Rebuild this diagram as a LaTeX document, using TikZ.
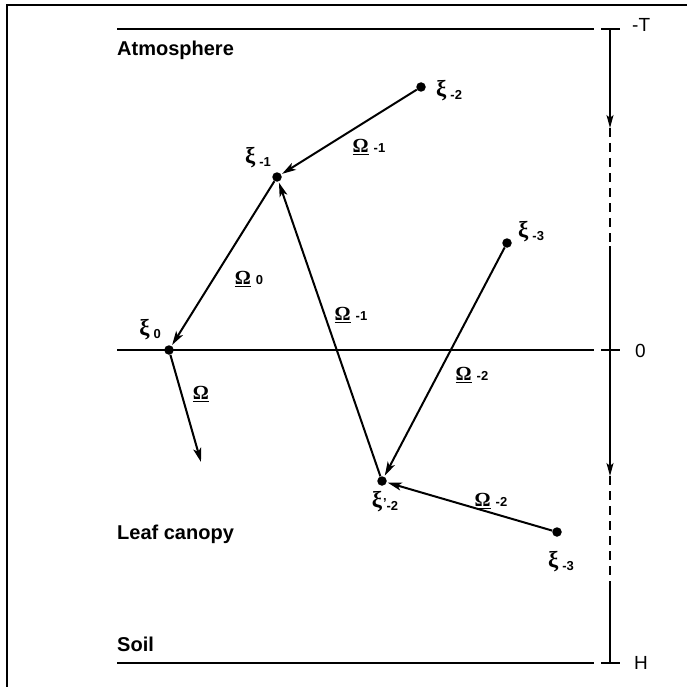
\documentclass[tikz,border=0pt]{standalone}
\usepackage{fontspec}
\setmainfont{Liberation Sans}
\newfontfamily\symf{Liberation Serif}
\usetikzlibrary{arrows.meta}
\newcommand\gxi[1]{{\symf\bfseries\fontsize{23}{23}\selectfont ξ}\kern4pt\raisebox{-3pt}{\fontsize{13}{13}\selectfont\bfseries #1}}
\newcommand\gom[1]{\underline{{\symf\fontsize{20}{20}\selectfont\bfseries Ω}}\kern5pt\raisebox{0pt}{\fontsize{13}{13}\selectfont\bfseries #1}}
\begin{document}
\begin{tikzpicture}[x=1pt,y=-1pt,
  dot/.style={circle,fill=black,inner sep=0pt,minimum size=9.5pt},
  flow/.style={line width=2pt,-{Stealth[length=14pt,width=8pt,inset=3.5pt]},shorten >=1pt},
  level/.style={line width=1.6pt},
  axisarrow/.style={line width=1.5pt,-{Stealth[length=13pt,width=7pt,inset=3pt]}},
  region/.style={font=\fontsize{20}{22}\selectfont\bfseries,anchor=base west,inner sep=0pt},
  sym/.style={font=\fontsize{19}{20}\selectfont,inner sep=0pt}]
\useasboundingbox (0,0) rectangle (686,687);
% frame
\draw[line width=1.3pt] (7,690) -- (7,5) -- (690,5);
% levels
\coordinate (lT1) at (117,29); \coordinate (lT2) at (594,29);
\coordinate (l01) at (117,350); \coordinate (l02) at (594,350);
\coordinate (lH1) at (117,663); \coordinate (lH2) at (594,663);
\draw[level] (lT1) -- (lT2);
\draw[level] (l01) -- (l02);
\draw[level] (lH1) -- (lH2);
% axis
\coordinate (aT) at (610,29); \coordinate (a0) at (610,350); \coordinate (aH) at (610,663);
\coordinate (a1) at (610,128); \coordinate (a2) at (610,246);
\coordinate (a3) at (610,476); \coordinate (a4) at (610,582);
\draw[level] (601,29) -- (620,29);
\draw[level] (601,350) -- (620,350);
\draw[level] (601,663) -- (620,663);
\draw[axisarrow] (aT) -- (a1);
\draw[level,dash pattern=on 9pt off 6pt] (a1) -- (a2);
\draw[axisarrow] (a2) -- (a3);
\draw[level,dash pattern=on 9pt off 6pt] (a3) -- (a4);
\draw[level] (a4) -- (aH);
\node[sym,anchor=west] (tT) at (632,25) {-T};
\node[sym,anchor=west] (t0) at (635,351) {0};
\node[sym,anchor=west] (tH) at (634,663) {H};
% region labels
\node[region] (atm) at (117,56) {Atmosphere};
\node[region] (leaf) at (117,539) {Leaf canopy};
\node[region] (soil) at (117,651) {Soil};
% points
\node[dot] (xm2) at (421,87) {};
\node[dot] (xm1) at (277,177) {};
\node[dot] (xm3a) at (507,243) {};
\node[dot] (x0) at (169,350) {};
\node[dot] (xp2) at (382,481) {};
\node[dot] (xm3b) at (557,532) {};
\coordinate (oend) at (201,462);
% point labels
\node[sym,anchor=west] (Lxm2) at (436,91) {\gxi{-2}};
\node[sym] (Lxm1) at (258,158) {\gxi{-1}};
\node[sym,anchor=west] (Lxm3a) at (518,232) {\gxi{-3}};
\node[sym] (Lx0) at (150,330) {\gxi{0}};
\node[sym] (Lxp2) at (385,502) {{\symf\bfseries\fontsize{23}{23}\selectfont ξ}\kern1pt{\bfseries\fontsize{13}{13}\selectfont '}\raisebox{-3pt}{\fontsize{13}{13}\selectfont\bfseries -2}};
\node[sym] (Lxm3b) at (561,562) {\gxi{-3}};
% arrows
\draw[flow] (xm2) -- (xm1);
\draw[flow] (xm1) -- (x0);
\draw[flow] (xp2) -- (xm1);
\draw[flow] (xm3a) -- (xp2);
\draw[flow] (xm3b) -- (xp2);
\draw[flow,shorten >=0pt] (x0) -- (oend);
% arrow labels
\node[sym] (Om1a) at (369,147) {\gom{-1}};
\node[sym] (Om0) at (249,279) {\gom{0}};
\node[sym] (Om1b) at (351,315) {\gom{-1}};
\node[sym] (Om2a) at (472,375) {\gom{-2}};
\node[sym] (Om) at (201,394) {\underline{{\symf\fontsize{20}{20}\selectfont\bfseries Ω}}};
\node[sym] (Om2b) at (491,501) {\gom{-2}};
\end{tikzpicture}
\end{document}
